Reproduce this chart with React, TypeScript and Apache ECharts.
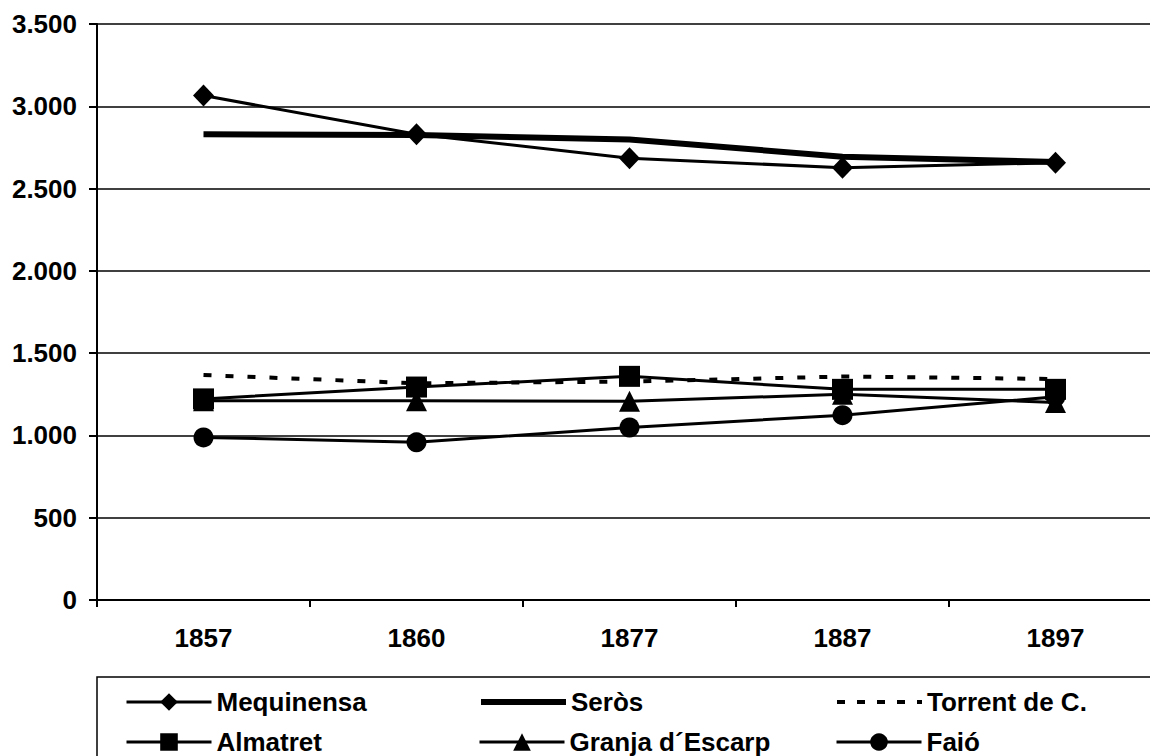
import React, { useEffect, useRef } from "react";
import * as echarts from "echarts";

const years = ["1857", "1860", "1877", "1887", "1897"];
const mequinensa = [3065, 2830, 2684, 2627, 2657];
const seros = [2830, 2825, 2798, 2694, 2662];
const torrent = [1367, 1317, 1327, 1358, 1343];
const almatret = [1222, 1294, 1359, 1280, 1280];
const granja = [1211, 1211, 1208, 1250, 1200];
const faio = [988, 958, 1048, 1123, 1235];

const FONT = "'Liberation Sans', Arial, sans-serif";

function fmt(v: number): string {
  const s = String(Math.round(v));
  return s.replace(/\B(?=(\d{3})+(?!\d))/g, ".");
}

export default function App() {
  const ref = useRef<HTMLDivElement>(null);
  useEffect(() => {
    if (!ref.current) return;
    const chart = echarts.init(ref.current, undefined, { renderer: "svg" });
    const black = "#000";
    const mk = (name: string, data: number[], symbol: string, size: any, width: number, type: any = "solid") => ({
      name,
      type: "line",
      data,
      symbol,
      symbolSize: size,
      showSymbol: symbol !== "none",
      itemStyle: { color: black },
      lineStyle: { color: black, width, type },
      z: 3,
    });
    const legendText = { fontFamily: FONT, fontWeight: "bold", fontSize: 26, color: black };
    const leg = (name: string, left: number, top: number, width: number, type: any, noSymbol: boolean) => ({
      data: [noSymbol ? { name, itemStyle: { opacity: 0 } } : { name }],
      left,
      top,
      padding: 0,
      itemWidth: 85,
      itemHeight: 22,
      itemGap: 0,
      textStyle: legendText,
      lineStyle: { width, type, color: black },
      selectedMode: false,
    });
    chart.setOption({
      animation: false,
      backgroundColor: "#fff",
      grid: { left: 97, right: 8, top: 24, bottom: 156 },
      xAxis: {
        type: "category",
        data: years,
        boundaryGap: true,
        axisLine: { lineStyle: { color: black, width: 2 } },
        axisTick: { show: true, length: 7, lineStyle: { color: black, width: 2 } },
        axisLabel: { fontFamily: FONT, fontWeight: "bold", fontSize: 26, color: black, margin: 25 },
      },
      yAxis: {
        type: "value",
        min: 0,
        max: 3500,
        interval: 500,
        axisLine: { show: true, lineStyle: { color: black, width: 2 } },
        axisTick: { show: true, length: 8, lineStyle: { color: black, width: 2 } },
        splitLine: { show: true, lineStyle: { color: black, width: 1.5 } },
        axisLabel: { fontFamily: FONT, fontWeight: "bold", fontSize: 26, color: black, margin: 20, formatter: fmt },
      },
      legend: [
        leg("Mequinensa", 125, 689, 3, "solid", false),
        leg("Seròs", 478, 689, 6, "solid", true),
        leg("Torrent de C.", 835, 689, 4, [8, 12], true),
        leg("Almatret", 125, 729, 3, "solid", false),
        leg("Granja d´Escarp", 478, 729, 3, "solid", false),
        leg("Faió", 835, 729, 3, "solid", false),
      ],
      graphic: [
        {
          type: "rect",
          shape: { x: 97, y: 677, width: 1100, height: 120 },
          style: { fill: "none", stroke: black, lineWidth: 1.5 },
          z: 0,
        },
      ],
      series: [
        mk("Mequinensa", mequinensa, "diamond", [21, 22], 3),
        mk("Seròs", seros, "none", 0, 6),
        mk("Torrent de C.", torrent, "none", 0, 4, [8, 14]),
        mk("Almatret", almatret, "rect", 21, 3),
        mk("Granja d´Escarp", granja, "triangle", 21, 3),
        mk("Faió", faio, "circle", 20, 3),
      ],
    });
    return () => chart.dispose();
  }, []);
  return (
    <div style={{ position: "fixed", left: 0, top: 0, width: 1150, height: 756, overflow: "hidden", background: "#fff" }}>
      <div ref={ref} style={{ width: 1170, height: 756 }} />
    </div>
  );
}
